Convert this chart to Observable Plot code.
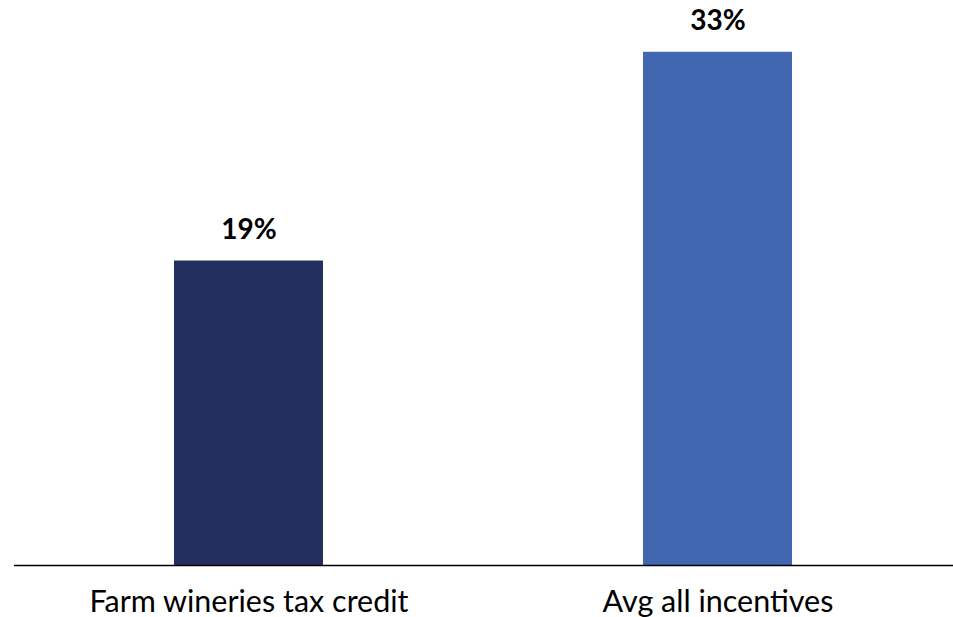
<!DOCTYPE html>
<html>
<head>
<meta charset="utf-8">
<script src="https://cdn.jsdelivr.net/npm/d3@7"></script>
<script src="https://cdn.jsdelivr.net/npm/@observablehq/plot@0.6"></script>
<style>
  html, body { margin: 0; padding: 0; background: #fff; }
  #chart { width: 953px; height: 617px; }
</style>
</head>
<body>
<div id="chart"></div>
<script>
const categories = ["Farm wineries tax credit", "Avg all incentives"];
const values = [19.4, 32.7];
const colors = ["#222f5f", "#4067b0"];

const data = categories.map((c, i) => ({category: c, value: values[i], color: colors[i]}));

const chart = Plot.plot({
  width: 953,
  height: 617,
  marginLeft: 14,
  marginRight: 0,
  marginTop: 0,
  marginBottom: 52,
  style: {fontFamily: "Lato, 'Open Sans', sans-serif", background: "#fff"},
  x: {type: "band", domain: categories, paddingInner: 0.682, paddingOuter: 0.342, label: null},
  y: {domain: [0, 36], axis: null},
  marks: [
    Plot.barY(data, {x: "category", y: "value", fill: "color"}),
    Plot.ruleY([0], {stroke: "#000", strokeWidth: 1.5}),
    Plot.text(data, {x: "category", y: "value", text: d => Math.round(d.value) + "%", dy: -31, fontSize: 28, fontWeight: "bold", fill: "#000"}),
    Plot.axisX({tickSize: 0, tickPadding: 25, fontSize: 30.5, fill: "#000", label: null})
  ]
});
document.getElementById("chart").appendChild(chart);
</script>
</body>
</html>
